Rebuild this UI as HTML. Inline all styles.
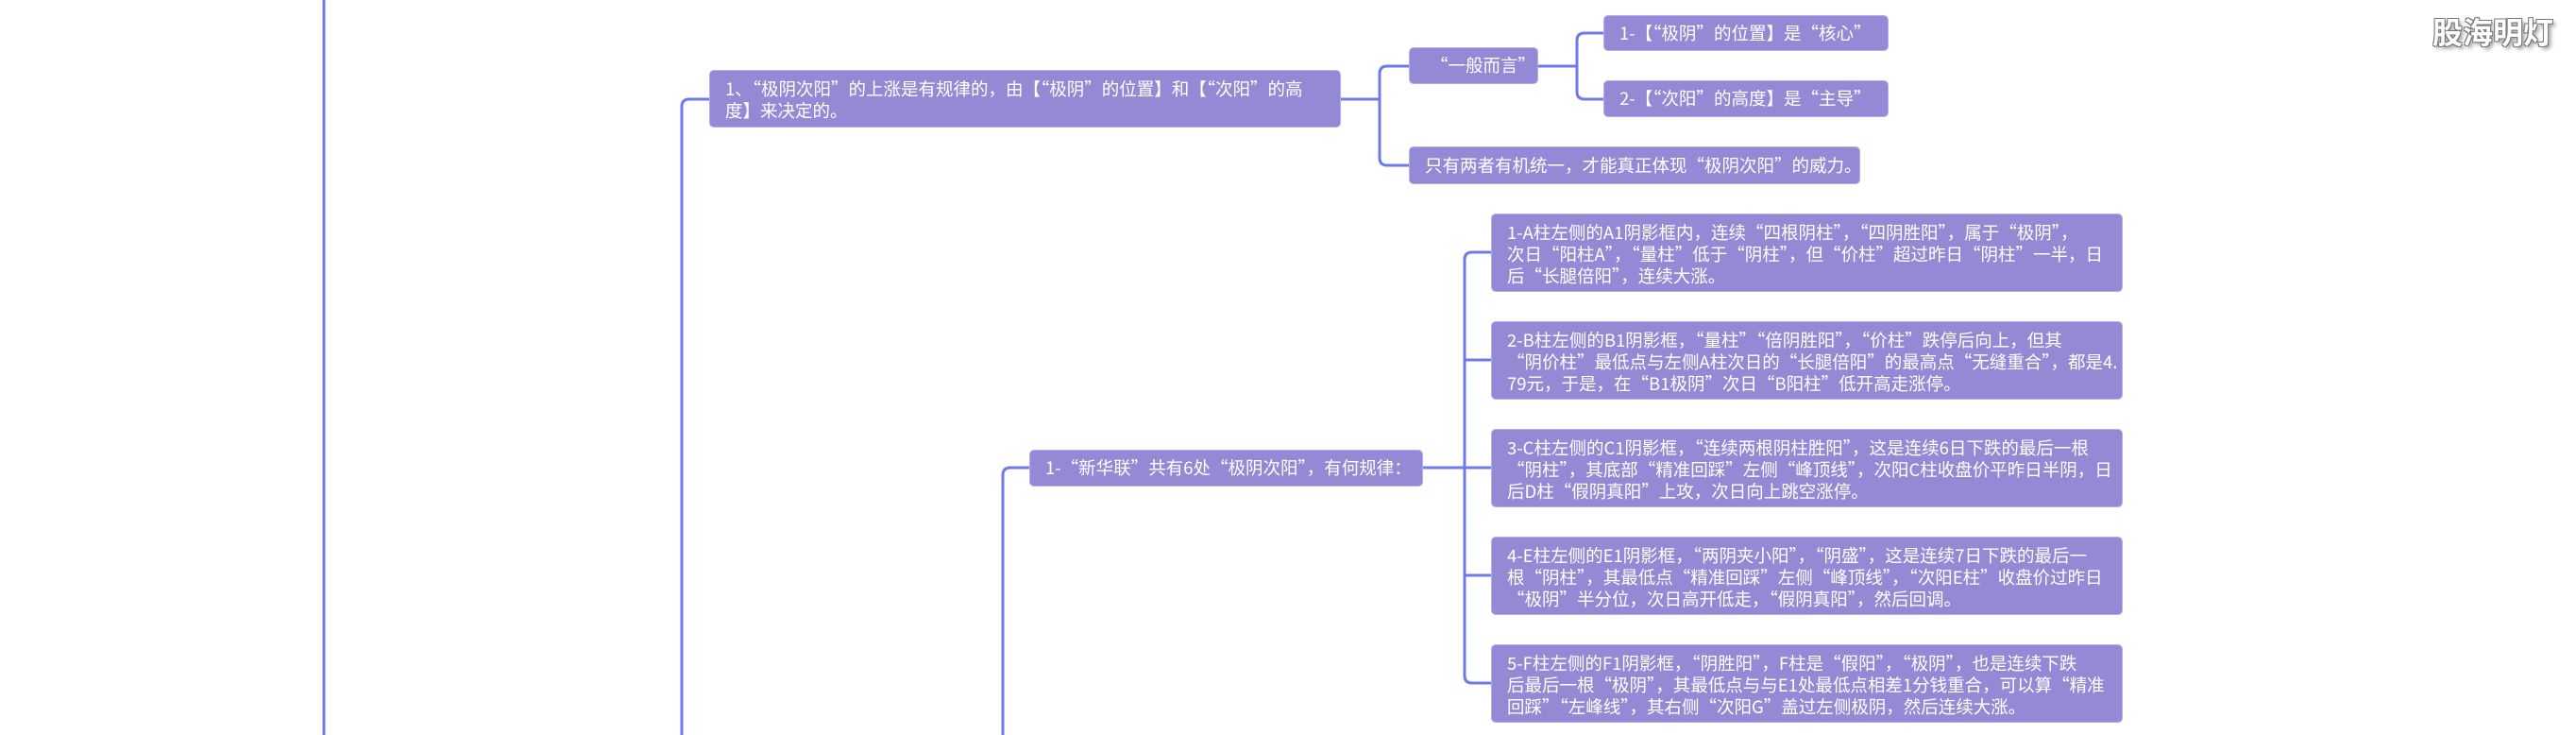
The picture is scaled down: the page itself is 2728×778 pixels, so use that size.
<!DOCTYPE html>
<html><head><meta charset="utf-8"><style>
html,body{margin:0;padding:0;background:#fff;}
body{width:2728px;height:778px;position:relative;overflow:hidden;font-family:"Noto Sans CJK SC","Liberation Sans",sans-serif;}
.n{position:absolute;background:#9489d4;color:#fff;border:1px solid #b5adf0;border-radius:5px;box-sizing:border-box;font-size:18.5px;line-height:23px;white-space:nowrap;letter-spacing:0;}
.wm{position:absolute;left:2576px;top:10px;font-size:32px;font-weight:bold;color:#fff;white-space:nowrap;font-family:"Noto Sans CJK SC",sans-serif;text-shadow:-1px -1px 0 #777,1px -1px 0 #777,-1px 1px 0 #777,1px 1px 0 #777,3px 3px 4px #999;}
</style></head><body>
<svg width="2728" height="778" style="position:absolute;left:0;top:0" fill="none" stroke="#6c7be9" stroke-width="3">
<path d="M343 0 V778"/>
<path d="M751 105 H730 Q722 105 722 113 V778"/>
<path d="M1420 105 H1461"/>
<path d="M1492 70 H1469 Q1461 70 1461 78 V167 Q1461 175 1469 175 H1492"/>
<path d="M1629 70 H1670"/>
<path d="M1698 35 H1678 Q1670 35 1670 43 V97 Q1670 105 1678 105 H1698"/>
<path d="M1090 495 H1070 Q1062 495 1062 503 V778"/>
<path d="M1507 495 H1579"/>
<path d="M1579 267 H1559 Q1551 267 1551 275 V715 Q1551 723 1559 723 H1579"/>
<path d="M1551 381 H1579 M1551 609 H1579"/>
</svg>
<div class="n" style="left:751px;top:74px;width:669px;height:61px;padding:8px 0 0 16px;">1、“极阴次阳”的上涨是有规律的，由【“极阴”的位置】和【“次阳”的高<br>度】来决定的。</div>
<div class="n" style="left:1492px;top:50px;width:137px;height:39px;padding:7px 0 0 22px;">“一般而言”</div>
<div class="n" style="left:1698px;top:16px;width:302px;height:38px;padding:7px 0 0 16px;">1-【“极阴”的位置】是“核心”</div>
<div class="n" style="left:1698px;top:85px;width:302px;height:39px;padding:7px 0 0 16px;">2-【“次阳”的高度】是“主导”</div>
<div class="n" style="left:1492px;top:155px;width:478px;height:40px;padding:8px 0 0 16px;">只有两者有机统一，才能真正体现“极阴次阳”的威力。</div>
<div class="n" style="left:1090px;top:476px;width:417px;height:39px;padding:7px 0 0 16px;">1-“新华联”共有6处“极阴次阳”，有何规律：</div>
<div class="n" style="left:1579px;top:226px;width:669px;height:83px;padding:8px 0 0 16px;">1-A柱左侧的A1阴影框内，连续“四根阴柱”，“四阴胜阳”，属于“极阴”，<br>次日“阳柱A”，“量柱”低于“阴柱”，但“价柱”超过昨日“阴柱”一半，日<br>后“长腿倍阳”，连续大涨。</div>
<div class="n" style="left:1579px;top:340px;width:669px;height:83px;padding:8px 0 0 16px;">2-B柱左侧的B1阴影框，“量柱”“倍阴胜阳”，“价柱”跌停后向上，但其<br>“阴价柱”最低点与左侧A柱次日的“长腿倍阳”的最高点“无缝重合”，都是4.<br>79元，于是，在“B1极阴”次日“B阳柱”低开高走涨停。</div>
<div class="n" style="left:1579px;top:454px;width:669px;height:83px;padding:8px 0 0 16px;">3-C柱左侧的C1阴影框，“连续两根阴柱胜阳”，这是连续6日下跌的最后一根<br>“阴柱”，其底部“精准回踩”左侧“峰顶线”，次阳C柱收盘价平昨日半阴，日<br>后D柱“假阴真阳”上攻，次日向上跳空涨停。</div>
<div class="n" style="left:1579px;top:568px;width:669px;height:83px;padding:8px 0 0 16px;">4-E柱左侧的E1阴影框，“两阴夹小阳”，“阴盛”，这是连续7日下跌的最后一<br>根“阴柱”，其最低点“精准回踩”左侧“峰顶线”，“次阳E柱”收盘价过昨日<br>“极阴”半分位，次日高开低走，“假阴真阳”，然后回调。</div>
<div class="n" style="left:1579px;top:682px;width:669px;height:83px;padding:8px 0 0 16px;">5-F柱左侧的F1阴影框，“阴胜阳”，F柱是“假阳”，“极阴”，也是连续下跌<br>后最后一根“极阴”，其最低点与与E1处最低点相差1分钱重合，可以算“精准<br>回踩”“左峰线”，其右侧“次阳G”盖过左侧极阴，然后连续大涨。</div>
<div class="wm">股海明灯</div>
</body></html>
